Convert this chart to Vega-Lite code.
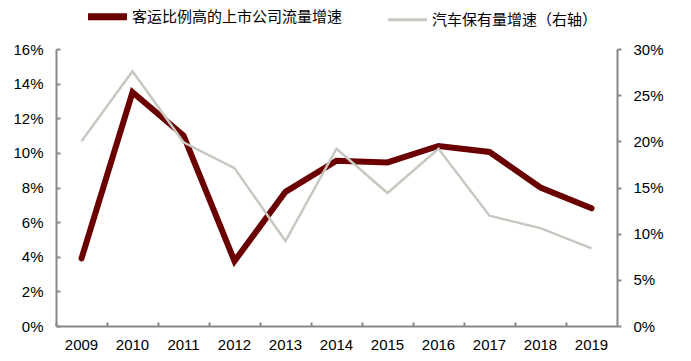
{
  "$schema": "https://vega.github.io/schema/vega-lite/v6.json",
  "width": 561,
  "height": 277,
  "autosize": {"type": "none"},
  "padding": {"left": 56, "top": 49, "right": 74, "bottom": 35},
  "background": "white",
  "config": {
    "view": {"stroke": null},
    "axis": {
      "labelFont": "Liberation Sans",
      "labelFontSize": 15,
      "labelColor": "#000000",
      "domainColor": "#888888",
      "domainWidth": 2,
      "tickColor": "#888888",
      "tickWidth": 2,
      "grid": false,
      "title": null
    }
  },
  "data": {
    "values": [
      {"year": "2009", "series": "客运比例高的上市公司流量增速", "value": 3.9},
      {"year": "2010", "series": "客运比例高的上市公司流量增速", "value": 13.5},
      {"year": "2011", "series": "客运比例高的上市公司流量增速", "value": 11.0},
      {"year": "2012", "series": "客运比例高的上市公司流量增速", "value": 3.75},
      {"year": "2013", "series": "客运比例高的上市公司流量增速", "value": 7.75},
      {"year": "2014", "series": "客运比例高的上市公司流量增速", "value": 9.55},
      {"year": "2015", "series": "客运比例高的上市公司流量增速", "value": 9.45},
      {"year": "2016", "series": "客运比例高的上市公司流量增速", "value": 10.4},
      {"year": "2017", "series": "客运比例高的上市公司流量增速", "value": 10.05},
      {"year": "2018", "series": "客运比例高的上市公司流量增速", "value": 8.0},
      {"year": "2019", "series": "客运比例高的上市公司流量增速", "value": 6.8},
      {"year": "2009", "series": "汽车保有量增速（右轴）", "value": 20.0},
      {"year": "2010", "series": "汽车保有量增速（右轴）", "value": 27.6},
      {"year": "2011", "series": "汽车保有量增速（右轴）", "value": 19.9},
      {"year": "2012", "series": "汽车保有量增速（右轴）", "value": 17.1},
      {"year": "2013", "series": "汽车保有量增速（右轴）", "value": 9.2},
      {"year": "2014", "series": "汽车保有量增速（右轴）", "value": 19.2},
      {"year": "2015", "series": "汽车保有量增速（右轴）", "value": 14.4},
      {"year": "2016", "series": "汽车保有量增速（右轴）", "value": 19.2},
      {"year": "2017", "series": "汽车保有量增速（右轴）", "value": 11.95},
      {"year": "2018", "series": "汽车保有量增速（右轴）", "value": 10.6},
      {"year": "2019", "series": "汽车保有量增速（右轴）", "value": 8.4}
    ]
  },
  "layer": [
    {
      "transform": [{"filter": "datum.series === '客运比例高的上市公司流量增速'"}],
      "mark": {"type": "line", "strokeWidth": 6, "strokeJoin": "miter", "strokeCap": "round"},
      "encoding": {
        "x": {
          "field": "year", "type": "ordinal", "bandPosition": 0.5,
          "scale": {"type": "band", "paddingInner": 0, "paddingOuter": 0},
          "axis": {"orient": "bottom", "ticks": false, "domain": false, "labelPadding": 11, "labelAngle": 0, "bandPosition": 0.5}
        },
        "y": {
          "field": "value", "type": "quantitative",
          "scale": {"domain": [0, 16], "nice": false},
          "axis": {"orient": "left", "values": [0, 2, 4, 6, 8, 10, 12, 14, 16], "labelExpr": "datum.value + '%'", "tickSize": -4, "labelPadding": 17}
        },
        "color": {
          "field": "series", "type": "nominal",
          "scale": {"domain": ["客运比例高的上市公司流量增速", "汽车保有量增速（右轴）"], "range": ["#6B0000", "#C8C8C0"]},
          "legend": {
            "orient": "none", "legendX": 44, "legendY": -40, "direction": "horizontal", "title": null,
            "symbolType": "stroke", "symbolSize": 1521, "symbolStrokeWidth": 6,
            "labelFont": "Noto Sans CJK SC", "labelFontSize": 15, "labelColor": "#000000",
            "labelOffset": 17, "columnPadding": 39, "padding": 0, "labelLimit": 400,
            "encode": {"symbols": {"update": {"strokeWidth": {"signal": "datum.value === '客运比例高的上市公司流量增速' ? 7 : 3"}}}}
          }
        }
      }
    },
    {
      "transform": [{"filter": "datum.series === '汽车保有量增速（右轴）'"}],
      "mark": {"type": "line", "strokeWidth": 2.5, "strokeJoin": "miter"},
      "encoding": {
        "x": {
          "field": "year", "type": "ordinal", "bandPosition": 0.5,
          "axis": {"orient": "bottom", "labels": false, "ticks": true, "tickSize": -4, "domain": true, "bandPosition": 0}
        },
        "y": {
          "field": "value", "type": "quantitative",
          "scale": {"domain": [0, 30], "nice": false},
          "axis": {"orient": "right", "values": [0, 5, 10, 15, 20, 25, 30], "labelExpr": "datum.value + '%'", "tickSize": 4, "labelPadding": 12}
        },
        "color": {"field": "series", "type": "nominal"}
      }
    }
  ],
  "resolve": {"scale": {"y": "independent"}, "axis": {"x": "independent"}}
}
